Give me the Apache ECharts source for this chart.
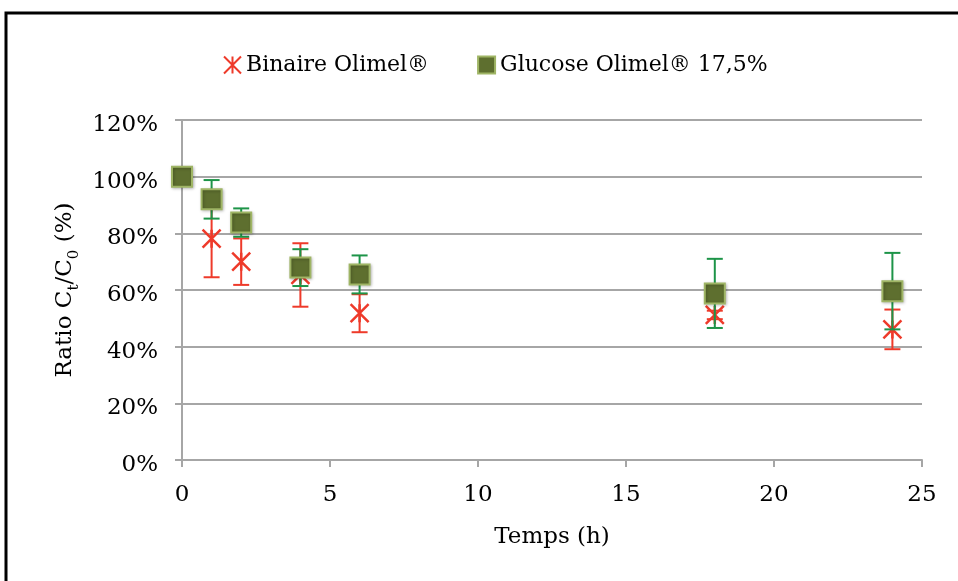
<!DOCTYPE html>
<html><head><meta charset="utf-8">
<script src="https://cdn.jsdelivr.net/npm/echarts@6/dist/echarts.min.js"></script>
<style>html,body{margin:0;padding:0;background:#fff}#c{width:958px;height:581px}</style>
</head><body><div id="c"></div>
<script>
const times = [0, 1, 2, 4, 6, 18, 24];
const binaireMean = [null, 78.1, 70.0, 65.3, 51.8, 51.2, 46.1];
const binaireErr  = [null, 13.6, 8.2, 11.2, 6.7, 1.5, 7.0];
const glucoseMean = [100.0, 92.0, 83.8, 67.9, 65.5, 58.8, 59.6];
const glucoseErr  = [0, 6.8, 5.0, 6.5, 6.7, 12.2, 13.5];
const xTicks = [0, 5, 10, 15, 20, 25];
const yTicks = [0, 20, 40, 60, 80, 100, 120];

const FONT = 'DejaVu Serif';
const FS = 23;
const RED = '#ee3a2a';
const GREEN_BAR = '#1d9448';

function pairs(means) { return times.map((t, i) => [t, means[i]]).filter(p => p[1] != null); }
function errData(means, errs) {
  return times.map((t, i) => [t, means[i], errs[i]]).filter(p => p[1] != null && p[2] > 0);
}
function errRender(color) {
  return function (params, api) {
    const x = api.value(0), m = api.value(1), e = api.value(2);
    const top = api.coord([x, m + e]);
    const bot = api.coord([x, m - e]);
    const hw = 8;
    const style = { stroke: color, lineWidth: 2 };
    return {
      type: 'group',
      children: [
        { type: 'line', shape: { x1: top[0], y1: top[1], x2: bot[0], y2: bot[1] }, style },
        { type: 'line', shape: { x1: top[0] - hw, y1: top[1], x2: top[0] + hw, y2: top[1] }, style },
        { type: 'line', shape: { x1: bot[0] - hw, y1: bot[1], x2: bot[0] + hw, y2: bot[1] }, style }
      ]
    };
  };
}

const chart = echarts.init(document.getElementById('c'), null, { renderer: 'canvas' });
chart.setOption({
  animation: false,
  backgroundColor: '#fff',
  textStyle: { fontFamily: FONT },
  graphic: [{
    type: 'rect', z: 100,
    shape: { x: 6, y: 13, width: 1100, height: 1000 },
    style: { fill: 'none', stroke: '#000', lineWidth: 3 }
  }],
  legend: {
    top: 49, left: 218,
    itemGap: 48, itemWidth: 17, itemHeight: 17,
    textStyle: { fontFamily: FONT, fontSize: 22, color: '#000' },
    data: ['Binaire Olimel®', 'Glucose Olimel® 17,5%']
  },
  grid: { left: 182, right: 36, top: 120, bottom: 121 },
  xAxis: {
    type: 'value', min: 0, max: 25, interval: 5,
    name: 'Temps (h)', nameLocation: 'middle', nameGap: 66,
    nameTextStyle: { fontFamily: FONT, fontSize: FS, color: '#000' },
    axisLine: { lineStyle: { color: '#a6a6a6', width: 2 } },
    axisTick: { show: true, length: 7, lineStyle: { color: '#a6a6a6', width: 2 } },
    splitLine: { show: false },
    axisLabel: { fontFamily: FONT, fontSize: FS, color: '#000', margin: 24,
      formatter: v => xTicks.includes(v) ? String(v) : '' }
  },
  yAxis: {
    type: 'value', min: 0, max: 120, interval: 20,
    name: '{n|Ratio C}{s|t}{n|/C}{s|0}{n| (%)}', nameLocation: 'middle', nameGap: 93, nameRotate: 90,
    nameTextStyle: {
      fontFamily: FONT, fontSize: FS, color: '#000',
      rich: {
        n: { fontFamily: FONT, fontSize: FS, color: '#000', lineHeight: 32, verticalAlign: 'middle' },
        s: { fontFamily: FONT, fontSize: 15, color: '#000', lineHeight: 32, verticalAlign: 'bottom' }
      }
    },
    axisLine: { show: true, lineStyle: { color: '#a6a6a6', width: 2 } },
    axisTick: { show: true, length: 7, lineStyle: { color: '#a6a6a6', width: 2 } },
    splitLine: { show: true, lineStyle: { color: '#a6a6a6', width: 2 } },
    axisLabel: { color: '#000', margin: 24,
      formatter: v => yTicks.includes(v) ? '{a|' + v + '%}' : '',
      rich: { a: { fontFamily: FONT, fontSize: FS, color: '#000', padding: [10, 0, 0, 0] } }
    }
  },
  series: [
    {
      name: 'Binaire Olimel®', type: 'scatter', z: 3,
      symbol: 'path://M0,0L10,10M10,0L0,10M5,0L5,10', symbolSize: 18,
      itemStyle: { color: 'rgba(0,0,0,0)', borderColor: RED, borderWidth: 2.5, opacity: 1 },
      data: pairs(binaireMean)
    },
    {
      name: 'Glucose Olimel® 17,5%', type: 'scatter', z: 5,
      symbol: 'rect', symbolSize: 20,
      itemStyle: { color: '#5e6f2f', borderColor: '#9fb565', borderWidth: 2, opacity: 1,
        shadowColor: 'rgba(0,0,0,0.25)', shadowBlur: 3, shadowOffsetX: 1, shadowOffsetY: 1 },
      data: pairs(glucoseMean)
    },
    {
      type: 'custom', z: 2, silent: true,
      renderItem: errRender(RED),
      encode: { x: 0, y: [1] },
      data: errData(binaireMean, binaireErr)
    },
    {
      type: 'custom', z: 4, silent: true,
      renderItem: errRender(GREEN_BAR),
      encode: { x: 0, y: [1] },
      data: errData(glucoseMean, glucoseErr)
    }
  ]
});
</script></body></html>
